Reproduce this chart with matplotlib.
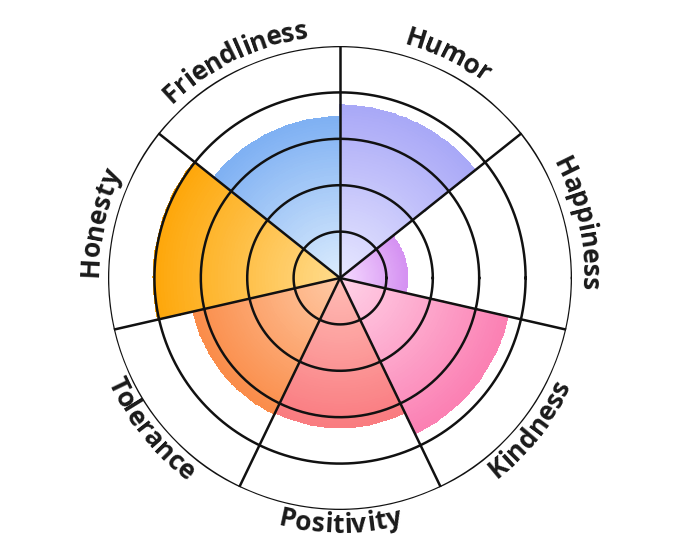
import numpy as np
import matplotlib
matplotlib.use("Agg")
import matplotlib.pyplot as plt
from matplotlib.colors import LinearSegmentedColormap
from matplotlib.font_manager import FontProperties

# sectors clockwise from the top
labels = ["Humor", "Happiness", "Kindness", "Positivity", "Tolerance", "Honesty", "Friendliness"]
values = [3.72, 1.45, 3.72, 3.22, 3.25, 4.02, 3.47]
inner_colors = ["#e8e8ff", "#f6dcff", "#ffd3e8", "#ffbdb6", "#ffcaa6", "#ffdc8e", "#dcecfd"]
outer_colors = ["#a9a8f7", "#d592f2", "#fb80b3", "#f97b80", "#fa8d4a", "#fea70a", "#7fb1f3"]
rings = [1, 2, 3, 4, 5]

n = len(labels)
step = 2 * np.pi / n
start = np.pi / 2

fig = plt.figure(figsize=(6.8, 5.57), dpi=100)
ax = fig.add_axes([0.1588, 0.0844, 0.6824, 0.833], projection="polar")
ax.set_ylim(0, 5)
ax.axis("off")

# gradient wedges
for i, v in enumerate(values):
    t1 = start - i * step
    t0 = t1 - step
    th = np.linspace(t0, t1, 40)
    rr = np.linspace(0, v, 60)
    T, R = np.meshgrid(th, rr)
    C = (R[:-1, :-1] + R[1:, 1:]) / 2 / v
    cmap = LinearSegmentedColormap.from_list("c%d" % i, [inner_colors[i], outer_colors[i]])
    ax.pcolormesh(T, R, C, cmap=cmap, vmin=0, vmax=1, shading="flat",
                  edgecolors="face", linewidth=0.3, zorder=1)

# rings and spokes
circ = np.linspace(0, 2 * np.pi, 400)
for r in rings:
    ax.plot(circ, np.full_like(circ, r), color="#111111", lw=1.8, zorder=3)
for i in range(n):
    t = start - i * step
    ax.plot([t, t], [0, 5], color="#111111", lw=1.8, zorder=3)

# curved labels
prop = FontProperties(family=["Open Sans", "DejaVu Sans"], weight="bold", size=19)
fig.canvas.draw()
renderer = fig.canvas.get_renderer()
c0 = ax.transData.transform((0, 0))
c1 = ax.transData.transform((0, 5))
px_per_unit = np.hypot(*(c1 - c0)) / 5


def width(s):
    return renderer.get_text_width_height_descent(s, prop, ismath=False)[0]


for i, lab in enumerate(labels):
    tc = start - i * step - step / 2
    bottom = np.sin(tc) < -0.3
    r_lab = 5.38 if not bottom else 5.33
    rpx = r_lab * px_per_unit
    total = width(lab)
    for k, ch in enumerate(lab):
        off = width(lab[:k]) + width(ch) / 2 - total / 2
        da = off / rpx
        if bottom:
            th = tc + da
            rot = np.degrees(th) + 90
        else:
            th = tc - da
            rot = np.degrees(th) - 90
        ax.text(th, r_lab, ch, fontproperties=prop, color="#1a1a1a",
                rotation=rot, rotation_mode="anchor", ha="center", va="center",
                zorder=4, clip_on=False)

fig.savefig("out.png", dpi=100)
